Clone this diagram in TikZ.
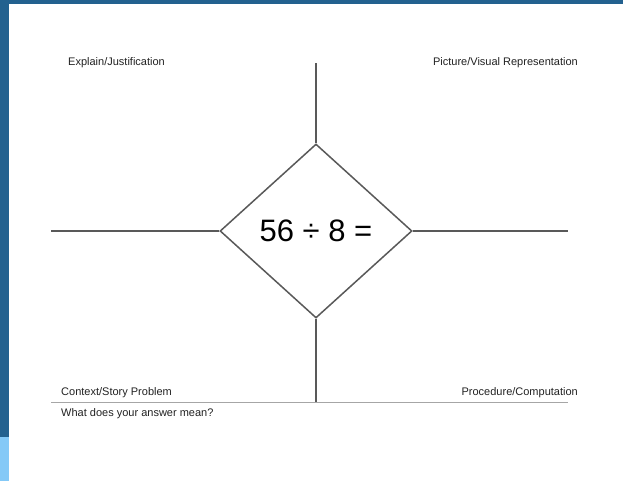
\documentclass[tikz,border=0pt]{standalone}
\usepackage{fontspec}
\setmainfont{Liberation Sans}
\usetikzlibrary{shapes.geometric}
\definecolor{darkblue}{HTML}{23618F}
\definecolor{lightblue}{HTML}{84C9F7}
\definecolor{linegray}{HTML}{595959}
\definecolor{thingray}{HTML}{A6A6A6}
\definecolor{txt}{HTML}{222222}
\tikzset{
  arm/.style={draw=linegray, line width=1.5pt},
  lbl/.style={inner sep=0pt, text=txt, font=\fontsize{11}{13}\selectfont},
}
\begin{document}
\begin{tikzpicture}[x=1pt,y=-1pt]
\useasboundingbox (0,0) rectangle (623,481);
\fill[white] (0,0) rectangle (623,481);
\fill[darkblue] (0,0) rectangle (623,4);
\fill[darkblue] (0,0) rectangle (9,437);
\fill[lightblue] (0,437) rectangle (9,481);
% diamond
\node[diamond, arm, minimum width=192pt, minimum height=174pt, inner sep=0pt,
      font=\fontsize{31}{36}\selectfont, text=black] (d) at (316,231) {56 ÷ 8 =};
\coordinate (top) at (316,63);
\coordinate (bot) at (316,402);
\coordinate (lft) at (51,231);
\coordinate (rgt) at (568,231);
\coordinate (bl) at (51,402);
\coordinate (br) at (568,402);
\draw[arm] (d.north) -- (top);
\draw[arm] (d.south) -- (bot);
\draw[arm] (d.west) -- (lft);
\draw[arm] (d.east) -- (rgt);
\draw[draw=thingray, line width=1pt] (bl) -- (br);
% labels
\node[lbl, anchor=west] (ej) at (68,63) {Explain/Justification};
\node[lbl, anchor=east] (pv) at (578,63) {Picture/Visual Representation};
\node[lbl, anchor=west] (cs) at (61,393) {Context/Story Problem};
\node[lbl, anchor=east] (pc) at (578,393) {Procedure/Computation};
\node[lbl, anchor=west] (wd) at (61,414) {What does your answer mean?};
\end{tikzpicture}
\end{document}
